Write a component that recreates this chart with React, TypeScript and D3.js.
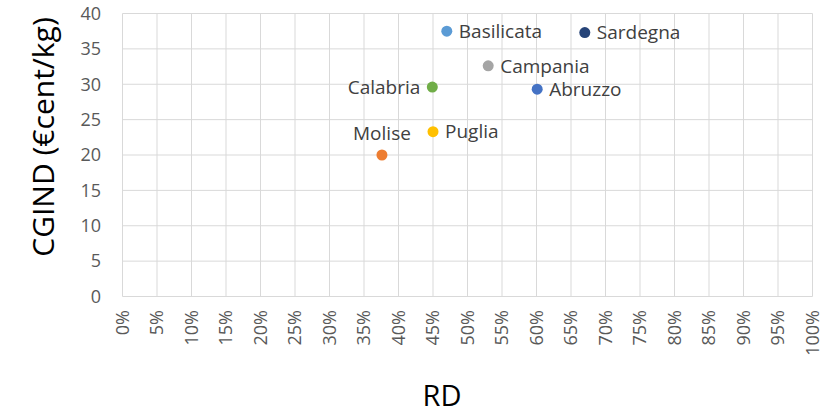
import React from "react";
import * as d3 from "d3";

const regions = ["Abruzzo", "Molise", "Campania", "Puglia", "Basilicata", "Calabria", "Sardegna"];
const rdValues = [0.601, 0.376, 0.53, 0.45, 0.47, 0.449, 0.67];
const cgindValues = [29.3, 20.0, 32.6, 23.3, 37.5, 29.6, 37.3];
const colors = ["#4472C4", "#ED7D31", "#A5A5A5", "#FFC000", "#5B9BD5", "#70AD47", "#264478"];
const labelPos = ["right", "top", "right", "right", "right", "left", "right"];
const xTicks = d3.range(0, 21).map((i) => i * 0.05);
const yTicks = d3.range(0, 9).map((i) => i * 5);

export default function App() {
  const W = 823, H = 414;
  const x = d3.scaleLinear().domain([0, 1]).range([122.5, 812.5]);
  const y = d3.scaleLinear().domain([0, 40]).range([296.5, 13.5]);
  const font = "'Open Sans', sans-serif";
  return (
    <svg width={W} height={H} style={{ position: "absolute", left: 0, top: 0 }}>
      <rect width={W} height={H} fill="#fff" />
      {xTicks.map((t, i) => (
        <line key={"gx" + i} x1={x(t)} x2={x(t)} y1={y(0)} y2={y(40)} stroke="#d9d9d9" strokeWidth={1} />
      ))}
      {yTicks.map((t, i) => (
        <line key={"gy" + i} x1={x(0)} x2={x(1)} y1={y(t)} y2={y(t)} stroke="#d9d9d9" strokeWidth={1} />
      ))}
      {yTicks.map((t, i) => (
        <text key={"ty" + i} x={101} y={y(t)} dy="0.35em" textAnchor="end" fontSize={18} fill="#595959" fontFamily={font}>
          {t}
        </text>
      ))}
      {xTicks.map((t, i) => (
        <text key={"tx" + i} transform={`translate(${x(t)},${310}) rotate(-90)`} dy="0.35em" textAnchor="end" fontSize={18} fill="#595959" fontFamily={font}>
          {d3.format(".0%")(t)}
        </text>
      ))}
      <text transform={`translate(43,137) rotate(-90)`} dy="0.35em" textAnchor="middle" fontSize={30} fill="#000" fontFamily={font}>
        CGIND (€cent/kg)
      </text>
      <text x={442} y={396} textAnchor="middle" dy="0.35em" fontSize={29} fill="#000" fontFamily={font}>
        RD
      </text>
      {regions.map((r, i) => {
        const cx = x(rdValues[i]);
        const cy = y(cgindValues[i]);
        const pos = labelPos[i];
        let lx = cx + 12, ly = cy, anchor = "start";
        if (pos === "left") { lx = cx - 12; anchor = "end"; }
        if (pos === "top") { lx = cx; ly = cy - 22; anchor = "middle"; }
        return (
          <g key={r}>
            <circle cx={cx} cy={cy} r={5.5} fill={colors[i]} />
            <text x={lx} y={ly} dy="0.35em" textAnchor={anchor} fontSize={19} fill="#404040" fontFamily={font}>
              {r}
            </text>
          </g>
        );
      })}
    </svg>
  );
}
